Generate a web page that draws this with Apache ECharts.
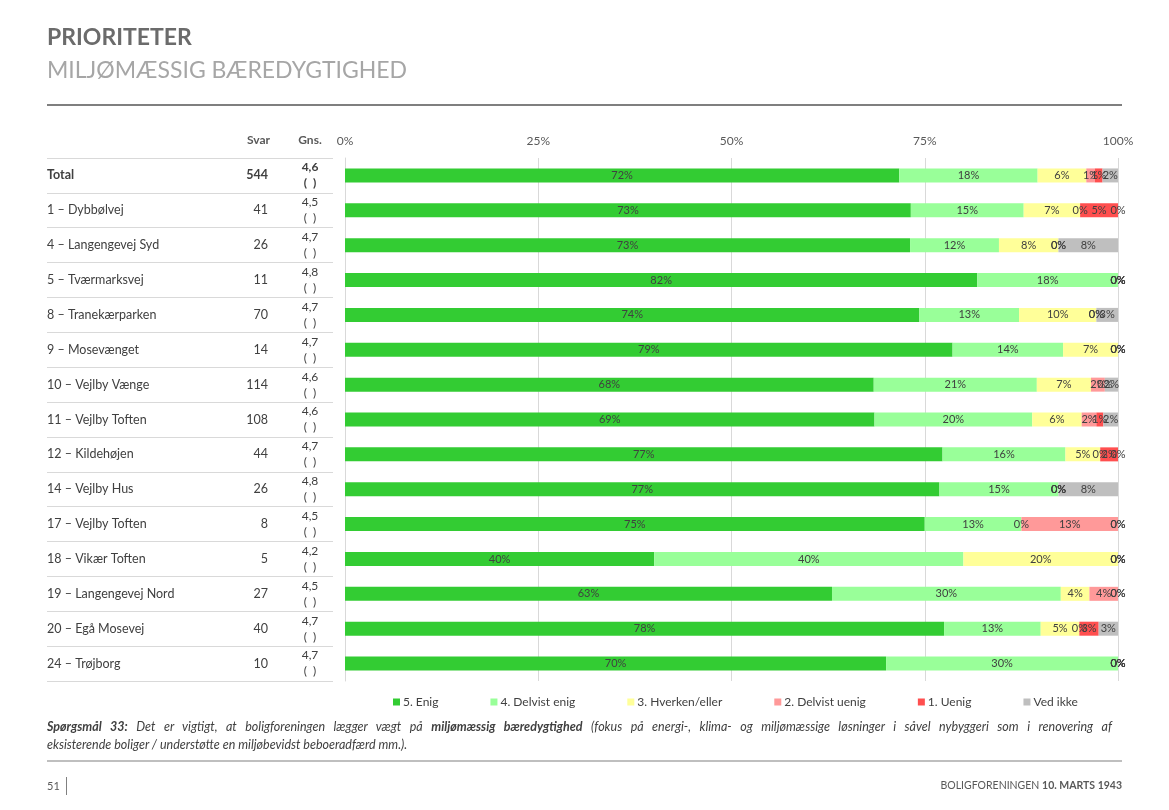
<!DOCTYPE html>
<html>
<head>
<meta charset="utf-8">
<script src="https://cdn.jsdelivr.net/npm/echarts@6/dist/echarts.min.js"></script>
<style>
  html, body { margin: 0; padding: 0; background: #fff; }
  #chart { width: 1169px; height: 810px; position: absolute; left: 0; top: 0; }
  #question { position: absolute; left: 47px; top: 718px; width: 1065px; font-family: Lato, "Open Sans", sans-serif; font-style: italic; font-size: 12.5px; line-height: 18px; color: #404040; }
  #question .l1 { text-align: justify; text-align-last: justify; white-space: nowrap; }
  #question b { font-weight: bold; }
</style>
</head>
<body>
<div id="chart"></div>
<div id="question">
  <div class="l1"><b>Spørgsmål 33:</b> Det er vigtigt, at boligforeningen lægger vægt på <b>miljømæssig bæredygtighed</b> (fokus på energi-, klima- og miljømæssige løsninger i såvel nybyggeri som i renovering af</div>
  <div>eksisterende boliger / understøtte en miljøbevidst beboeradfærd mm.).</div>
</div>
<script>
const categories = ['Total', '1 – Dybbølvej', '4 – Langengevej Syd', '5 – Tværmarksvej', '8 – Tranekærparken', '9 – Mosevænget', '10 – Vejlby Vænge', '11 – Vejlby Toften', '12 – Kildehøjen', '14 – Vejlby Hus', '17 – Vejlby Toften', '18 – Vikær Toften', '19 – Langengevej Nord', '20 – Egå Mosevej', '24 – Trøjborg'];
const svar = [544, 41, 26, 11, 70, 14, 114, 108, 44, 26, 8, 5, 27, 40, 10];
const gns = ['4,6', '4,5', '4,7', '4,8', '4,7', '4,7', '4,6', '4,6', '4,7', '4,8', '4,5', '4,2', '4,5', '4,7', '4,7'];
const seriesNames = ['5. Enig', '4. Delvist enig', '3. Hverken/eller', '2. Delvist uenig', '1. Uenig', 'Ved ikke'];
const enig         = [71.7, 73.2, 73.1, 81.8, 74.3, 78.6, 68.4, 68.5, 77.3, 76.9, 75.0, 40, 63.0, 77.5, 70];
const delvistEnig  = [17.9, 14.6, 11.5, 18.2, 12.9, 14.3, 21.1, 20.4, 15.9, 15.4, 12.5, 40, 29.6, 12.5, 30];
const hverken      = [6.3, 7.3, 7.7, 0, 10.0, 7.1, 7.0, 6.4, 4.5, 0, 0, 20, 3.7, 5.0, 0];
const delvistUenig = [1.1, 0, 0, 0, 0, 0, 1.8, 1.9, 0, 0, 12.5, 0, 3.7, 0, 0];
const uenig        = [1.0, 4.9, 0, 0, 0, 0, 0, 0.9, 2.3, 0, 0, 0, 0, 2.5, 0];
const vedIkke      = [2.0, 0, 7.7, 0, 2.8, 0, 1.7, 1.9, 0, 7.7, 0, 0, 0, 2.5, 0];
const xTicks = [0, 25, 50, 75, 100];

const seriesData = [enig, delvistEnig, hverken, delvistUenig, uenig, vedIkke];
const colors = ['#33CC33', '#99FF99', '#FFFF99', '#FF9999', '#FF4F4F', '#BFBFBF'];
const FONT = 'Lato, "Open Sans", sans-serif';
const TXT = '#404040';

const chart = echarts.init(document.getElementById('chart'), null, { renderer: 'canvas' });

const series = seriesNames.map((name, k) => ({
  name: name,
  type: 'bar',
  stack: 'total',
  barWidth: 14,
  yAxisIndex: 0,
  itemStyle: { color: colors[k] },
  label: {
    show: true,
    position: 'inside',
    color: TXT,
    fontFamily: FONT,
    fontSize: 11,
    formatter: p => Math.round(p.value) + '%'
  },
  emphasis: { disabled: true },
  data: seriesData[k]
}));

const baseY = {
  type: 'category',
  data: categories,
  inverse: true,
  position: 'left',
  axisLine: { show: false, onZero: false },
  axisTick: { show: false },
  splitLine: { show: false }
};

const option = {
  animation: false,
  color: colors,
  textStyle: { fontFamily: FONT },
  grid: { left: 345, right: 51, top: 158, bottom: 129, containLabel: false },
  xAxis: {
    type: 'value',
    position: 'top',
    min: 0, max: 100, interval: 25,
    axisLine: { show: false },
    axisTick: { show: false },
    splitLine: { show: true, lineStyle: { color: '#d9d9d9', width: 1 } },
    axisLabel: { margin: 11, color: '#595959', fontSize: 12, fontFamily: FONT, formatter: v => xTicks.includes(v) ? v + '%' : '' }
  },
  yAxis: [
    Object.assign({}, baseY, {
      axisLine: { show: true, onZero: false, lineStyle: { color: '#d9d9d9' } },
      axisLabel: {
        interval: 0, margin: 298, align: 'left', fontFamily: FONT, fontSize: 12.5, color: TXT,
        formatter: (v, i) => i === 0 ? '{b|' + v + '}' : '{r|' + v + '}',
        rich: { b: { fontWeight: 'bold', fontSize: 12.5, color: TXT, fontFamily: FONT }, r: { fontSize: 12.5, color: TXT, fontFamily: FONT } }
      }
    }),
    Object.assign({}, baseY, {
      axisLabel: {
        interval: 0, margin: 77, align: 'right', fontFamily: FONT, fontSize: 12.5, color: TXT,
        formatter: (v, i) => i === 0 ? '{b|' + svar[i] + '}' : '{r|' + svar[i] + '}',
        rich: { b: { fontWeight: 'bold', fontSize: 12.5, color: TXT, fontFamily: FONT }, r: { fontSize: 12.5, color: TXT, fontFamily: FONT } }
      }
    }),
    Object.assign({}, baseY, {
      axisLabel: {
        interval: 0, margin: 35, align: 'center', fontFamily: FONT, fontSize: 12, color: TXT, lineHeight: 16,
        formatter: (v, i) => i === 0 ? '{b|' + gns[i] + '}\n{b|(\u2002)}' : '{r|' + gns[i] + '}\n{r|(\u2002)}',
        rich: { b: { fontWeight: 'bold', fontSize: 12, lineHeight: 16, color: TXT, fontFamily: FONT }, r: { fontSize: 12, lineHeight: 16, color: TXT, fontFamily: FONT } }
      }
    }),
    Object.assign({}, baseY, {
      offset: 12,
      axisTick: { show: true, length: 286, lineStyle: { color: '#d9d9d9', width: 1 } },
      axisLabel: { show: false }
    })
  ],
  legend: {
    data: seriesNames,
    left: 388, top: 691,
    icon: 'rect', itemWidth: 7, itemHeight: 7, itemGap: 52,
    selectedMode: false,
    textStyle: { color: TXT, fontSize: 12, fontFamily: FONT, padding: [0, 0, 0, -2] }
  },
  graphic: [
    { type: 'text', left: 47, top: 26, style: { text: 'PRIORITETER', font: 'bold 23px ' + FONT, fill: '#6b6b6b' } },
    { type: 'text', left: 47, top: 59, style: { text: 'MILJØMÆSSIG BÆREDYGTIGHED', font: '23px ' + FONT, fill: '#a6a6a6' } },
    { type: 'rect', shape: { x: 47, y: 104, width: 1075, height: 2 }, style: { fill: '#7f7f7f' } },
    { type: 'text', x: 270, y: 140, style: { text: 'Svar', font: 'bold 12px ' + FONT, fill: '#595959', align: 'right', verticalAlign: 'middle' } },
    { type: 'text', x: 310, y: 140, style: { text: 'Gns.', font: 'bold 12px ' + FONT, fill: '#595959', align: 'center', verticalAlign: 'middle' } },
    { type: 'rect', shape: { x: 47, y: 760, width: 1075, height: 2 }, style: { fill: '#bfbfbf' } },
    { type: 'text', x: 47, y: 786, style: { text: '51', font: '11px ' + FONT, fill: '#595959', verticalAlign: 'middle' } },
    { type: 'rect', shape: { x: 66, y: 777, width: 1, height: 18 }, style: { fill: '#808080' } },
    { type: 'text', x: 1122, y: 786, style: { text: '{r|BOLIGFORENINGEN }{b|10. MARTS 1943}', align: 'right', verticalAlign: 'middle',
      rich: { r: { fontSize: 10.5, fill: '#595959', fontFamily: FONT }, b: { fontSize: 10.5, fontWeight: 'bold', fill: '#595959', fontFamily: FONT } } } }
  ],
  series: series
};

chart.setOption(option);
</script>
</body>
</html>
